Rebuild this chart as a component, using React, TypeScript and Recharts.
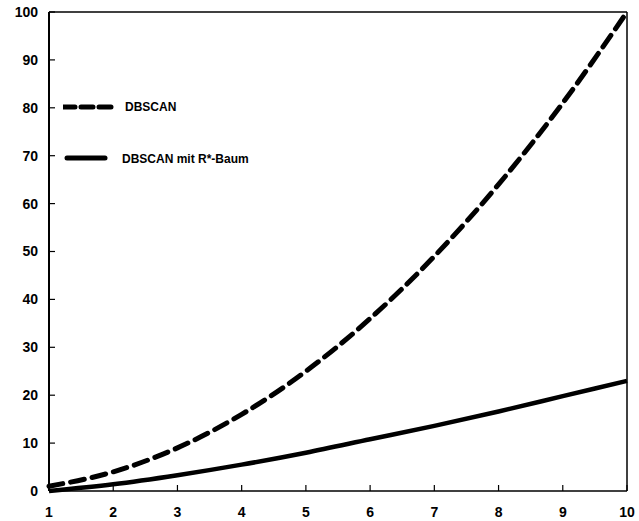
import React from "react"
import { LineChart, Line, XAxis, YAxis, Legend } from "recharts"

const xValues = [1, 2, 3, 4, 5, 6, 7, 8, 9, 10]
const dbscan = [1, 4, 9, 16, 25, 36, 49, 64, 81, 100]
const dbscanRStar = [0, 1.4, 3.3, 5.5, 8.0, 10.8, 13.6, 16.6, 19.8, 23.0]
const xTicks = [1, 2, 3, 4, 5, 6, 7, 8, 9, 10]
const yTicks = [0, 10, 20, 30, 40, 50, 60, 70, 80, 90, 100]

const data = xValues.map((x, i) => ({ x, dbscan: dbscan[i], rstar: dbscanRStar[i] }))

const font = "'Liberation Sans', Arial, sans-serif"
const tickStyle = { fill: "#000", fontSize: 14, fontWeight: 700, fontFamily: font }

function LegendBox() {
  return (
    <svg width={220} height={80} style={{ display: "block" }}>
      <line x1={0} y1={8} x2={48} y2={8} stroke="#000" strokeWidth={5} strokeDasharray="12 6" strokeLinecap="round" />
      <text x={62} y={12} fontSize={12} fontWeight={700} fontFamily={font} fill="#000">DBSCAN</text>
      <line x1={4} y1={59} x2={42} y2={59} stroke="#000" strokeWidth={5} strokeLinecap="round" />
      <text x={59} y={64} fontSize={12} fontWeight={700} fontFamily={font} fill="#000">DBSCAN mit R*-Baum</text>
    </svg>
  )
}

export default function App() {
  return (
    <div style={{ position: "absolute", left: 0, top: 0, background: "#fff" }}>
      <LineChart width={639} height={521} data={data} margin={{ top: 0, right: 0, left: 0, bottom: 0 }}>
        <XAxis
          dataKey="x"
          type="number"
          domain={[1, 10]}
          ticks={xTicks}
          height={30}
          tickSize={-6}
          tickMargin={22}
          tick={tickStyle}
          axisLine={{ stroke: "#000", strokeWidth: 1.5 }}
          tickLine={{ stroke: "#000", strokeWidth: 1.2 }}
        />
        <XAxis
          xAxisId="top"
          dataKey="x"
          orientation="top"
          type="number"
          domain={[1, 10]}
          ticks={xTicks}
          height={12}
          tickSize={-6}
          tick={false}
          axisLine={{ stroke: "#000", strokeWidth: 1.5 }}
          tickLine={{ stroke: "#000", strokeWidth: 1.2 }}
        />
        <YAxis
          type="number"
          domain={[0, 100]}
          ticks={yTicks}
          width={49}
          tickSize={-6}
          tickMargin={17}
          tick={tickStyle}
          axisLine={{ stroke: "#000", strokeWidth: 2 }}
          tickLine={{ stroke: "#000", strokeWidth: 1.2 }}
        />
        <YAxis
          yAxisId="right"
          orientation="right"
          type="number"
          domain={[0, 100]}
          ticks={yTicks}
          width={12}
          tickSize={-6}
          tick={false}
          axisLine={{ stroke: "#000", strokeWidth: 1.5 }}
          tickLine={{ stroke: "#000", strokeWidth: 1.2 }}
        />
        <Legend
          layout="vertical"
          verticalAlign="middle"
          align="center"
          wrapperStyle={{ position: "absolute", left: 63, top: 99, width: 220, height: 80 }}
          content={() => <LegendBox />}
        />
        <Line
          xAxisId="top"
          yAxisId="right"
          type="monotone"
          dataKey="dbscan"
          stroke="#000"
          strokeWidth={5}
          strokeDasharray="14 8"
          strokeLinecap="round"
          dot={false}
          isAnimationActive={false}
        />
        <Line
          type="monotone"
          dataKey="rstar"
          stroke="#000"
          strokeWidth={4.5}
          dot={false}
          isAnimationActive={false}
        />
      </LineChart>
    </div>
  )
}
